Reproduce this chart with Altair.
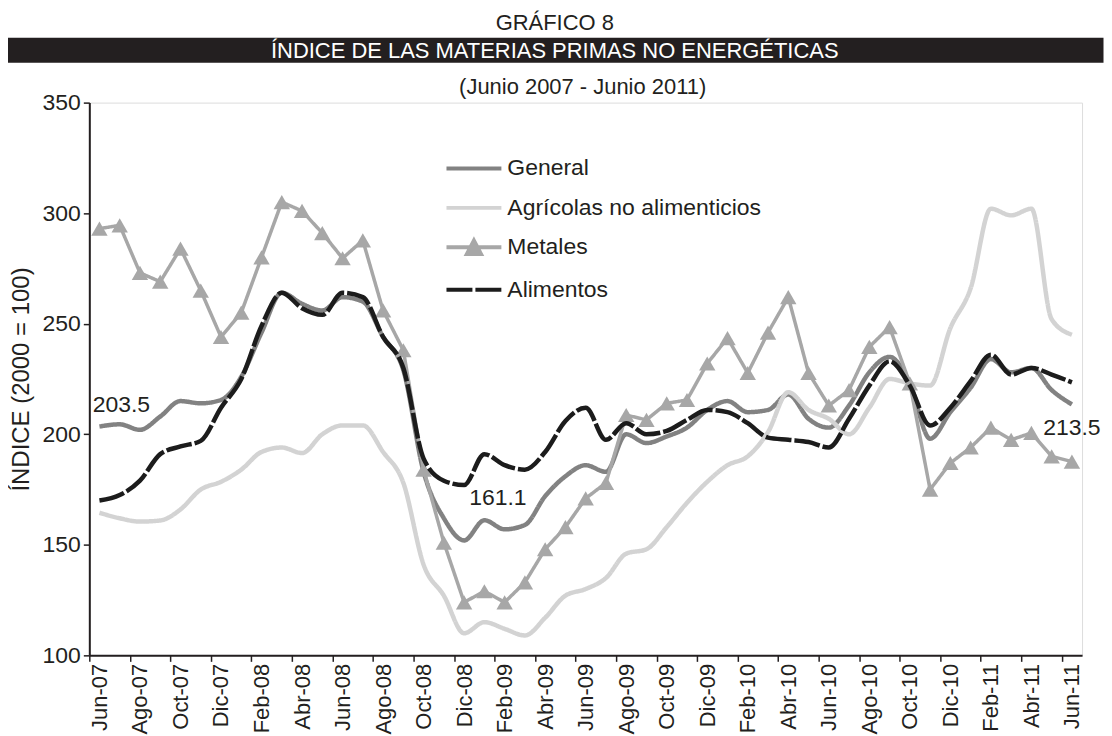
import json
import altair as alt
import pandas as pd

months = ["Jun-07", "Jul-07", "Ago-07", "Sep-07", "Oct-07", "Nov-07", "Dic-07",
          "Ene-08", "Feb-08", "Mar-08", "Abr-08", "May-08", "Jun-08", "Jul-08",
          "Ago-08", "Sep-08", "Oct-08", "Nov-08", "Dic-08", "Ene-09", "Feb-09",
          "Mar-09", "Abr-09", "May-09", "Jun-09", "Jul-09", "Ago-09", "Sep-09",
          "Oct-09", "Nov-09", "Dic-09", "Ene-10", "Feb-10", "Mar-10", "Abr-10",
          "May-10", "Jun-10", "Jul-10", "Ago-10", "Sep-10", "Oct-10", "Nov-10",
          "Dic-10", "Ene-11", "Feb-11", "Mar-11", "Abr-11", "May-11", "Jun-11"]

general = [203.5, 204.5, 202, 208, 215, 214, 215.5, 226, 246, 264, 259, 256, 262,
           260, 244, 229, 183, 162, 152, 161.1, 157, 159, 172, 181, 186, 183, 200,
           196, 199, 203, 211, 215, 210, 211, 218, 207, 203, 213, 228, 235, 223,
           198, 210, 221, 234, 228, 230, 220, 213.5]
agricolas = [164.5, 162, 160.5, 161, 166, 175, 178.5, 184, 192, 194, 191.5, 200,
             204, 204, 192, 178, 141, 127, 110, 115, 112, 109, 117, 127, 130, 135,
             146, 148, 158, 169, 178.5, 186, 190, 201, 219, 211, 207, 200, 212, 225,
             223, 222, 248, 266, 302, 299, 302, 252, 245]
metales = [293, 294.5, 273, 269, 284, 265, 244, 255, 280, 305, 301, 291, 279.6,
           287.7, 256, 238, 184, 151, 124, 129, 124, 133, 148, 158, 171, 178, 208.7,
           206.5, 214, 215.5, 232, 243.5, 227.7, 246, 262, 227.7, 213, 220, 239.5,
           248.5, 223, 175, 187, 194, 203, 197.5, 200.6, 190, 187.6]
alimentos = [170, 172.5, 179, 191, 194.5, 197, 212, 225, 249, 264, 257, 254, 264,
             262, 244, 230, 189, 179, 177, 191, 186, 184, 192, 206, 212, 197.5, 205,
             200, 201.5, 206.5, 211, 210, 205, 198.5, 197.5, 196.5, 194, 207, 222,
             233, 222, 204, 212, 224, 236, 227, 230, 227, 223.5]

series_names = ["General", "Agrícolas no alimenticios", "Metales", "Alimentos"]
series_values = [general, agricolas, metales, alimentos]

# value labels
ann_month = ["Jun-07", "Ene-09", "Jun-11"]
ann_value = [203.5, 161.1, 213.5]

colors = ["#828282", "#d3d3d3", "#a7a7a7", "#1c1c1c"]
dashes = [[1, 0], [1, 0], [1, 0], [26, 3]]
widths = [4.5, 4.5, 3.5, 4.5]

FONT = "Liberation Sans"
INK = "#231f20"
W, H = 995, 554
PAD_L, PAD_T = 81.5, 94

rows = []
for name, vals in zip(series_names, series_values):
    for i, v in enumerate(vals):
        rows.append({"series": name, "t": i + 0.5, "month": months[i], "value": v})
df = pd.DataFrame(rows)

ann_df = pd.DataFrame({
    "t": [months.index(m) + 0.5 for m in ann_month],
    "value": ann_value,
    "label": [f"{v:.1f}" for v in ann_value],
})

labels_js = json.dumps(months)
x_axis = alt.Axis(
    values=list(range(len(months) + 1)),
    labelExpr=f"(datum.value % 2 === 0 && datum.value < {len(months)}) ? {labels_js}[datum.value] : ''",
    labelAngle=270, labelAlign="right", labelBaseline="middle",
    labelOffset=W / len(months) / 2, labelFlush=False, labelOverlap=False,
    labelFont=FONT, labelFontSize=22, labelColor=INK, labelPadding=2,
    tickSize=6, tickColor=INK, tickWidth=1.5,
    domainColor=INK, domainWidth=2, grid=False, title=None,
)
y_axis = alt.Axis(
    values=[100, 150, 200, 250, 300, 350],
    labelFont=FONT, labelFontSize=23, labelColor=INK, labelPadding=3,
    tickSize=6, tickColor=INK, tickWidth=1.5,
    domainColor=INK, domainWidth=2, grid=False,
    title="ÍNDICE (2000 = 100)", titleFont=FONT, titleFontSize=24,
    titleFontWeight="normal", titleColor=INK, titlePadding=9,
)

x_enc = alt.X("t:Q", scale=alt.Scale(domain=[0, len(months)], nice=False, zero=False), axis=x_axis)
y_enc = alt.Y("value:Q", scale=alt.Scale(domain=[100, 350], nice=False, zero=False), axis=y_axis)

base = alt.Chart(df)
layers = []
for name, col, w, dash in zip(series_names, colors, widths, dashes):
    lyr = base.transform_filter(alt.datum.series == name).mark_line(
        strokeWidth=w, color=col, strokeDash=dash,
        interpolate="linear" if name == "Metales" else "monotone",
        strokeJoin="round", strokeCap="butt",
    ).encode(x=x_enc, y=y_enc)
    layers.append(lyr)
    if name == "Metales":
        layers.append(
            base.transform_filter(alt.datum.series == name)
            .mark_point(shape="triangle-up", filled=True, size=270, opacity=1, color=col)
            .encode(x=x_enc, y=y_enc)
        )

# legend (built by the library from a symbol-only layer)
line_path = "M-1.72,0L1.72,0"
tri_path = ("M-1.72,0L1.72,0M-0.44,0.42L0,-0.42L0.44,0.42Z"
            "M-0.2,0.24L0,-0.1L0.2,0.24Z")
legend = alt.Legend(
    orient="none", legendX=367.5, legendY=48, title=None, padding=0,
    labelFont=FONT, labelFontSize=23, labelColor=INK, labelLimit=0,
    labelOffset=15.5, rowPadding=9.5, symbolSize=1024, symbolStrokeWidth=4,
)
layers.append(
    base.transform_filter("false").mark_point(filled=False, strokeWidth=4, opacity=1).encode(
        x=x_enc, y=y_enc,
        color=alt.Color("series:N", scale=alt.Scale(domain=series_names, range=colors), legend=legend),
        shape=alt.Shape("series:N", scale=alt.Scale(domain=series_names,
                        range=[line_path, line_path, tri_path, line_path]), legend=legend),
        strokeDash=alt.StrokeDash("series:N", scale=alt.Scale(domain=series_names, range=dashes), legend=legend),
    )
)

ann_offsets = [(22, -22), (13.5, -22.5), (0, 23.5)]
for i, (dx, dy) in enumerate(ann_offsets):
    layers.append(
        alt.Chart(ann_df.iloc[[i]]).mark_text(
            font=FONT, fontSize=23, color=INK, dx=dx, dy=dy,
            align="center", baseline="middle",
        ).encode(x=alt.X("t:Q"), y=alt.Y("value:Q"), text="label:N")
    )

# header block (decoration, pixel positioned relative to plot origin)
hdr = pd.DataFrame({"a": [0]})
layers.append(alt.Chart(hdr).mark_rect(color=INK).encode(
    x=alt.value(-PAD_L), x2=alt.value(1106 - 8 - PAD_L),
    y=alt.value(37 - 8 - PAD_T), y2=alt.value(62 - 8 - PAD_T)))
for txt, xx, yy, col in [("GRÁFICO 8", 556, 22, INK),
                         ("ÍNDICE DE LAS MATERIAS PRIMAS NO ENERGÉTICAS", 556, 50, "white"),
                         ("(Junio 2007 - Junio 2011)", 584, 86, INK)]:
    layers.append(alt.Chart(hdr).mark_text(
        font=FONT, fontSize=22, color=col, align="center", baseline="middle", text=txt
    ).encode(x=alt.value(xx - 8 - PAD_L), y=alt.value(yy - 8 - PAD_T)))

chart = alt.layer(*layers).properties(
    width=W, height=H,
    autosize=alt.AutoSizeParams(type="none"),
    padding={"left": PAD_L, "top": PAD_T, "right": 22, "bottom": 80},
).configure_view(stroke=None).configure(background="white")

chart.save("out.html", embed_options={"renderer": "svg", "actions": False})
